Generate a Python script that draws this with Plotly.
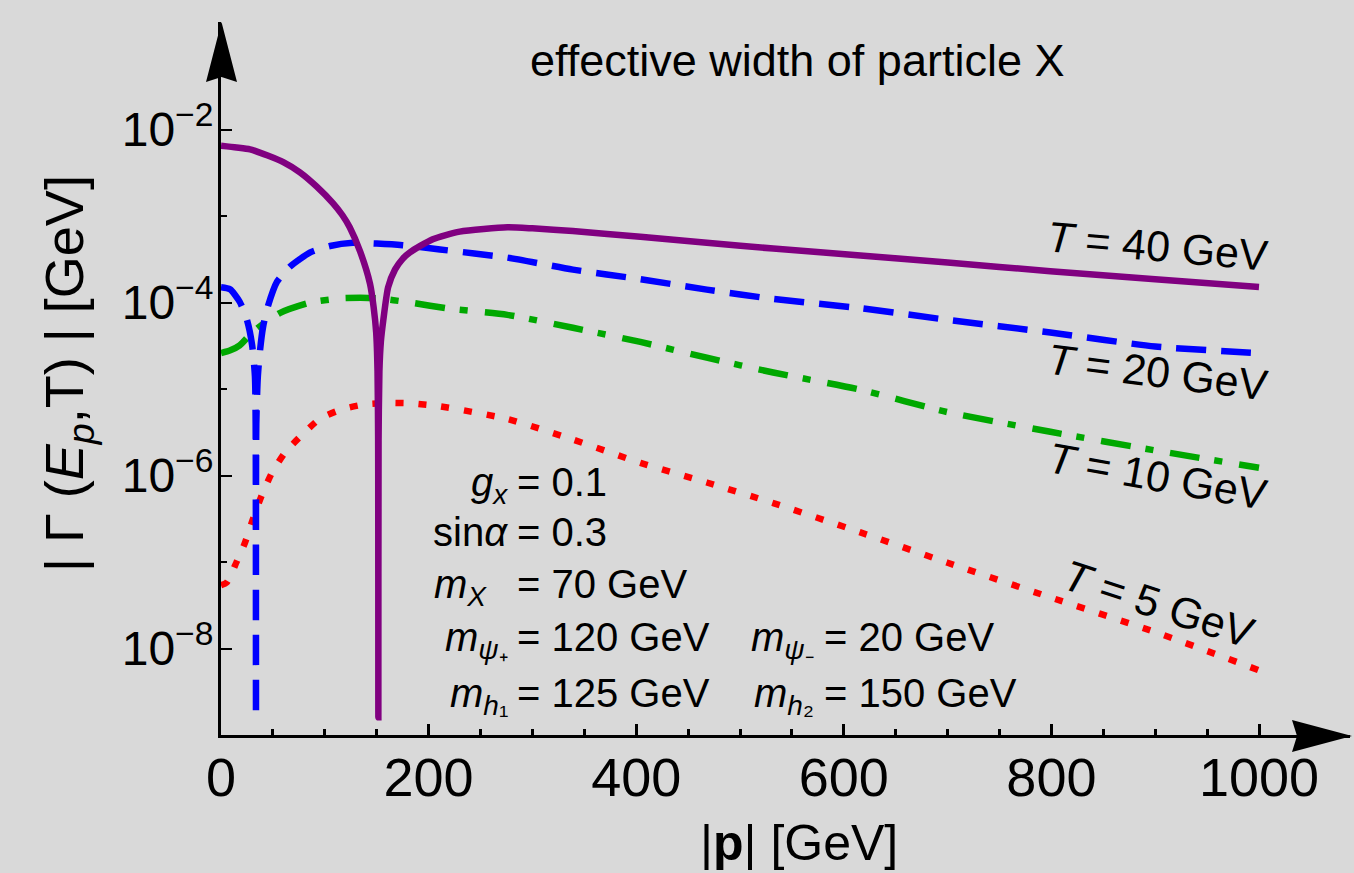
import plotly.graph_objects as go

# ---------------- data ----------------
p_T40 = [0, 15, 28, 45, 60, 76, 92, 108, 117, 124, 134, 143.5, 147, 149.5, 150.8, 151.4, 151.6,
         151.8, 152.6, 154, 156.4, 161, 167.6, 175, 182, 204, 230, 276, 300, 339, 404, 468, 532,
         616, 700, 799, 900, 1000]
G_T40 = [6.5e-3, 6.2e-3, 5.9e-3, 5.0e-3, 4.2e-3, 3.2e-3, 2.2e-3, 1.4e-3, 1.02e-3, 7.4e-4, 3.9e-4,
         1.66e-4, 8.9e-5, 4.5e-5, 1.6e-5, 2.5e-6, 1.6e-9,
         2.5e-6, 1.6e-5, 3.5e-5, 6.3e-5, 1.5e-4, 2.4e-4, 3.2e-4, 3.8e-4, 5.4e-4, 6.6e-4, 7.4e-4,
         7.2e-4, 6.7e-4, 5.75e-4, 4.9e-4, 4.2e-4, 3.5e-4, 2.9e-4, 2.3e-4, 1.86e-4, 1.51e-4]

p_T20 = [0, 8.7, 18, 25, 30, 32.7, 33.4, 33.7, 34.0, 35.5, 37.6, 40.5, 45, 54, 66.5, 86, 105, 127,
         150, 175, 211, 276, 339, 404, 468, 532, 616, 700, 799, 900, 1000]
G_T20 = [1.5e-4, 1.42e-4, 1.02e-4, 6.3e-5, 3.2e-5, 1.4e-5, 4.0e-6, 1.6e-9, 4.0e-6, 1.4e-5, 2.8e-5,
         5.2e-5, 8.9e-5, 1.74e-4, 2.6e-4, 3.8e-4, 4.5e-4, 4.9e-4, 4.8e-4, 4.6e-4, 4.1e-4, 3.3e-4,
         2.4e-4, 1.86e-4, 1.41e-4, 1.1e-4, 8.6e-5, 6.3e-5, 4.5e-5, 3.1e-5, 2.6e-5]

p_T10 = [0, 9, 18, 30, 40, 57, 86, 117, 150, 182, 220, 276, 339, 404, 468, 532, 616, 700, 799,
         900, 1000]
G_T10 = [2.6e-5, 2.8e-5, 3.2e-5, 4.5e-5, 5.6e-5, 7.6e-5, 1.0e-4, 1.12e-4, 1.12e-4, 1.0e-4, 8.5e-5,
         7.2e-5, 5.1e-5, 3.5e-5, 2.3e-5, 1.55e-5, 9.8e-6, 5.4e-6, 3.2e-6, 1.95e-6, 1.23e-6]

p_T5 = [0, 5.5, 15, 23, 31, 39, 49, 62, 78, 95, 115, 137, 163, 185, 211, 276, 339, 404, 468, 532,
        616, 700, 799, 900, 1000]
G_T5 = [5.4e-8, 5.8e-8, 1.0e-7, 1.66e-7, 3.2e-7, 5.8e-7, 1.07e-6, 1.86e-6, 2.95e-6, 4.5e-6,
        5.75e-6, 6.6e-6, 6.9e-6, 6.8e-6, 6.3e-6, 4.5e-6, 2.6e-6, 1.4e-6, 8.3e-7, 4.8e-7, 2.2e-7,
        9.8e-8, 3.9e-8, 1.55e-8, 5.6e-9]

y_tickvals = [1e-8, 1e-6, 1e-4, 1e-2]
y_ticktext = ["10<sup>\u22128</sup>", "10<sup>\u22126</sup>", "10<sup>\u22124</sup>", "10<sup>\u22122</sup>"]
y_minorvals = [1e-9, 1e-7, 1e-5, 1e-3]

series_labels = ["<i>T</i> = 40 GeV", "<i>T</i> = 20 GeV", "<i>T</i> = 10 GeV", "<i>T</i> = 5 GeV"]

# ---------------- layout geometry ----------------
W, H = 1354, 873
L, R, T, B = 221, 4, 22, 138
PW = W - L - R
PH = H - T - B
X_PER_UNIT = 1.038
DEC_PX = 86.5
FONT = "Liberation Sans, Arial, Helvetica, sans-serif"
SMOOTH = 0.6


def fx(px):
    return (px - L) / PW


def fy(py):
    return (H - B - py) / PH


fig = go.Figure()
fig.add_trace(go.Scatter(x=p_T5, y=G_T5, mode="lines",
                         line=dict(color="#ff0000", width=6.5, dash="8px,15px",
                                   shape="spline", smoothing=SMOOTH)))
fig.add_trace(go.Scatter(x=p_T10, y=G_T10, mode="lines",
                         line=dict(color="#00a800", width=6.5, dash="30px,15px,8px,17px",
                                   shape="spline", smoothing=SMOOTH)))
fig.add_trace(go.Scatter(x=p_T20, y=G_T20, mode="lines",
                         line=dict(color="#0000ff", width=6.5, dash="30px,15px",
                                   shape="spline", smoothing=SMOOTH)))
fig.add_trace(go.Scatter(x=p_T40, y=G_T40, mode="lines",
                         line=dict(color="#800080", width=6.5,
                                   shape="spline", smoothing=SMOOTH)))

fig.update_layout(
    width=W, height=H, autosize=False,
    margin=dict(l=L, r=R, t=T, b=B, pad=0),
    paper_bgcolor="#d9d9d9", plot_bgcolor="#d9d9d9",
    showlegend=False,
    font=dict(family=FONT, color="black"),
    xaxis=dict(range=[0, PW / X_PER_UNIT], showline=True, linecolor="black", linewidth=3,
               ticks="inside", ticklen=11, tickwidth=2.5, tickcolor="black",
               tick0=0, dtick=200, showgrid=False, zeroline=False, ticklabelstandoff=-7,
               tickfont=dict(size=54, family=FONT, color="black"),
               minor=dict(dtick=50, ticks="inside", ticklen=6, tickwidth=2.5, tickcolor="black",
                          showgrid=False)),
    yaxis=dict(type="log", range=[-9, -9 + PH / DEC_PX], showline=True, linecolor="black",
               linewidth=3, ticks="inside", ticklen=11, tickwidth=2, tickcolor="black",
               tickmode="array", tickvals=y_tickvals, ticktext=y_ticktext,
               showgrid=False, zeroline=False, ticklabelstandoff=-5,
               tickfont=dict(size=48, family=FONT, color="black"),
               minor=dict(tickvals=y_minorvals, ticks="inside", ticklen=6, tickwidth=2,
                          tickcolor="black", showgrid=False)),
)

# arrowheads on axes
fig.add_shape(type="path", xref="paper", yref="paper", fillcolor="black", line=dict(width=0),
              path=(f"M {fx(221.5)},{fy(22)} L {fx(206)},{fy(82)} L {fx(221.5)},{fy(77)} "
                    f"L {fx(237)},{fy(82)} Z"))
fig.add_shape(type="path", xref="paper", yref="paper", fillcolor="black", line=dict(width=0),
              path=(f"M {fx(1352)},{fy(736)} L {fx(1292)},{fy(720)} L {fx(1297)},{fy(736)} "
                    f"L {fx(1292)},{fy(752)} Z"))

annotations = []


def add_text(text, px, py, size, xanchor="center", yanchor="middle", angle=0):
    annotations.append(dict(text=text, x=fx(px), y=fy(py), xref="paper", yref="paper",
                            showarrow=False, xanchor=xanchor, yanchor=yanchor, textangle=angle,
                            borderpad=0, font=dict(size=size, family=FONT, color="black")))


# title and axis titles
add_text("effective width of particle X", 797, 60, 45)
add_text("|<b>p</b>| [GeV]", 799, 843, 50)
add_text("| \u0393 (<i>E</i><sub><i>p</i></sub>,T) | [GeV]", 68, 374, 54, angle=-90)

# curve labels
add_text(series_labels[0], 1157, 246, 43, angle=5)
add_text(series_labels[1], 1157, 372, 43, angle=7)
add_text(series_labels[2], 1157, 476, 43, angle=10)
add_text(series_labels[3], 1159, 604, 43, angle=18)

# parameter block
rows = [
    ("<i>g</i><sub><i>x</i></sub>", "= 0.1", None, None, 495),
    ("sin<i>\u03b1</i>", "= 0.3", None, None, 545),
    ("<i>m</i><sub><i>X</i></sub>  ", "= 70 GeV", None, None, 597),
    ("<i>m</i><sub><i>\u03c8</i>\u208a</sub>", "= 120 GeV",
     "<i>m</i><sub><i>\u03c8</i>\u208b</sub>", "= 20 GeV", 650),
    ("<i>m</i><sub><i>h</i>\u2081</sub>", "= 125 GeV",
     "<i>m</i><sub><i>h</i>\u2082</sub>", "= 150 GeV", 706),
]
for a, b, c, d, base in rows:
    top = base - 36
    add_text(a, 509, top, 40, xanchor="right", yanchor="top")
    add_text(b, 516, top, 40, xanchor="left", yanchor="top")
    if c:
        add_text(c, 815, top, 40, xanchor="right", yanchor="top")
        add_text(d, 823, top, 40, xanchor="left", yanchor="top")

fig.update_layout(annotations=annotations)
fig.write_html("out.html", config={"displayModeBar": False},
               post_script="document.body.style.margin='0px';"
                           "document.body.style.background='#d9d9d9';")
